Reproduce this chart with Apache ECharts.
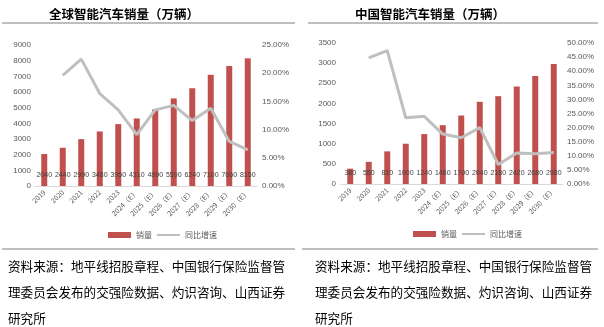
<!DOCTYPE html>
<html><head><meta charset="utf-8">
<script src="https://cdn.jsdelivr.net/npm/echarts@6/dist/echarts.min.js"></script>
<style>html,body{margin:0;padding:0;background:#fff;}#c{width:604px;height:327px;}</style>
</head><body><div id="c"></div>
<script>
var categories = ['2019','2020','2021','2022','2023','2024（E）','2025（E）','2026（E）','2027（E）','2028（E）','2029（E）','2030（E）'];
var globalSales = [2040,2440,2990,3480,3950,4310,4890,5590,6240,7100,7660,8150];
var globalGrowth = [null,19.6,22.5,16.4,13.5,9.1,13.5,14.3,11.6,13.8,7.9,6.4];
var chinaSales = [380,550,810,1000,1240,1460,1700,2040,2180,2420,2680,2980];
var chinaGrowth = [null,44.7,47.3,23.5,24.0,17.7,16.4,20.0,6.9,11.0,10.7,11.2];
var titleLeft = '全球智能汽车销量（万辆）';
var titleRight = '中国智能汽车销量（万辆）';
var sourceLines = ['资料来源：地平线招股章程、中国银行保险监督管','理委员会发布的交强险数据、灼识咨询、山西证券','研究所'];
var FONT = '"Noto Sans CJK SC", "Noto Sans", sans-serif';
var NUMF = '"Liberation Sans", sans-serif';
var RED = '#c0504d', GRAY = '#bfbfbf', TXT = '#595959';

function xAxis(g){return {type:'category',gridIndex:g,data:categories,
  axisLine:{lineStyle:{color:'#d9d9d9'}},axisTick:{show:false},
  axisLabel:{rotate:45,fontSize:7,color:TXT,fontFamily:FONT,margin:5,interval:0}};}
function yAxis(g,max,step,pct,margin){return {type:'value',gridIndex:g,min:0,max:max,interval:step,
  position:pct?'right':'left',splitLine:{show:false},axisLine:{show:false},axisTick:{show:false},
  axisLabel:{fontSize:8,color:TXT,fontFamily:NUMF,margin:margin,
   formatter:pct?function(v){return v.toFixed(2)+'%';}:function(v){return String(v);}}};}
function barS(x,y,d){return {name:'销量',type:'bar',xAxisIndex:x,yAxisIndex:y,data:d,barWidth:6,
  itemStyle:{color:RED},label:{show:true,position:'insideBottom',distance:7,fontSize:7,color:'#404040',fontFamily:NUMF}};}
function lineS(x,y,d){return {name:'同比增速',type:'line',xAxisIndex:x,yAxisIndex:y,data:d,symbol:'none',
  lineStyle:{color:GRAY,width:3},itemStyle:{color:GRAY},z:5};}
function legend(left,top){return {left:left,top:top,itemGap:4,itemWidth:23,itemHeight:6,
  data:[{name:'销量',icon:'rect'},{name:'同比增速',itemStyle:{opacity:0}}],
  textStyle:{fontSize:8,color:TXT,fontFamily:FONT},selectedMode:false};}

var graphics = [
  {type:'line',shape:{x1:2,y1:23,x2:295,y2:23},style:{stroke:'#7f7f7f',lineWidth:1}},
  {type:'line',shape:{x1:308,y1:23,x2:598,y2:23},style:{stroke:'#7f7f7f',lineWidth:1}},
  {type:'line',shape:{x1:2,y1:249,x2:295,y2:249},style:{stroke:'#7f7f7f',lineWidth:1}},
  {type:'line',shape:{x1:302,y1:249,x2:598,y2:249},style:{stroke:'#7f7f7f',lineWidth:1}}
];
sourceLines.forEach(function(t,i){
  [8,315].forEach(function(x){
    graphics.push({type:'text',left:x,top:260+i*26,style:{text:t,font:'12.6px '+FONT,fill:'#000'}});
  });
});

var chart = echarts.init(document.getElementById('c'));
chart.setOption({
  animation:false,
  backgroundColor:'#fff',
  title:[
    {text:titleLeft,left:44,top:3,textStyle:{fontSize:12.5,fontWeight:'bold',color:'#000',fontFamily:FONT}},
    {text:titleRight,left:350,top:3,textStyle:{fontSize:12.5,fontWeight:'bold',color:'#000',fontFamily:FONT}}
  ],
  grid:[{left:35,top:45,width:222,height:141},{left:341,top:43,width:222,height:141}],
  xAxis:[xAxis(0),xAxis(1)],
  yAxis:[yAxis(0,9000,1000,false,4),yAxis(0,25,5,true,5),yAxis(1,3500,500,false,5),yAxis(1,50,5,true,4)],
  legend:[legend(103,226),legend(408,225)],
  graphic:graphics,
  series:[barS(0,0,globalSales),lineS(0,1,globalGrowth),barS(1,2,chinaSales),lineS(1,3,chinaGrowth)]
});
</script></body></html>
